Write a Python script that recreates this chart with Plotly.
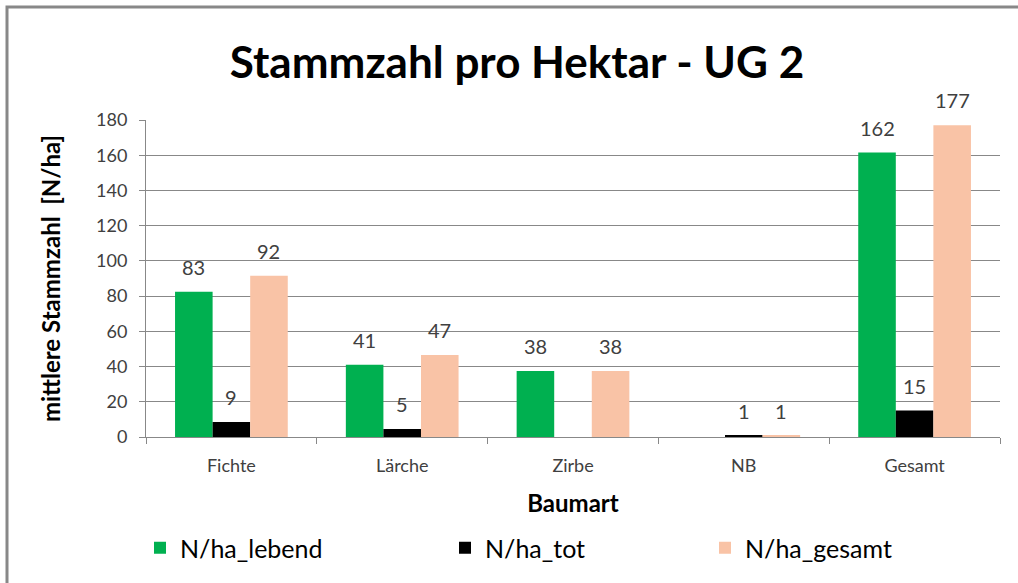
import plotly.graph_objects as go

categories = ["Fichte", "Lärche", "Zirbe", "NB", "Gesamt"]
lebend = [82.5, 41, 37.5, None, 161.5]
tot = [8.5, 4.6, None, 0.6, 15]
gesamt = [91.5, 46.5, 37.5, 0.8, 177]
lebend_labels = ["83", "41", "38", "", "162"]
tot_labels = ["9", "5", "", "1", "15"]
gesamt_labels = ["92", "47", "38", "1", "177"]

series_names = ["N/ha_lebend", "N/ha_tot", "N/ha_gesamt"]
colors = ["#00B050", "#000000", "#F9C3A6"]

W, H = 1018, 583
L, R, T, B = 146, 18, 120, 146
pw, ph = W - L - R, H - T - B
BARGAP = 0.34

def px_x(x):
    return (x - L) / pw

def px_y(y):
    return (H - B - y) / ph

FONT = "Lato"
fig = go.Figure()
data = [(lebend, lebend_labels), (tot, tot_labels), (gesamt, gesamt_labels)]
legends = ["legend", "legend2", "legend3"]
for vals, name, col, lg in zip([lebend, tot, gesamt], series_names, colors, legends):
    fig.add_trace(go.Bar(
        x=categories, y=vals, name=name, marker_color=col,
        marker_line_width=0, legend=lg, hoverinfo="x+y+name",
    ))

# data labels above bars (grouped offsets)
bar_px = pw / len(categories) * (1 - BARGAP) / 3
for i, (vals, labs) in enumerate(data):
    for cat, v, t in zip(categories, vals, labs):
        if v is None or t == "":
            continue
        fig.add_annotation(x=cat, y=v, text=t, showarrow=False,
                           xshift=(i - 1) * bar_px, yshift=11, yanchor="bottom",
                           font=dict(size=20, color="#404040", family=FONT))

leg_common = dict(orientation="h", font=dict(size=25, color="#000000", family=FONT),
                  bgcolor="rgba(0,0,0,0)", yanchor="middle", xanchor="left")
leg_x = [140, 445, 705]
fig.update_layout(
    width=W, height=H,
    margin=dict(l=L, r=R, t=T, b=B),
    paper_bgcolor="white", plot_bgcolor="white",
    barmode="group", bargap=BARGAP, bargroupgap=0,
    title=dict(text="<b>Stammzahl pro Hektar - UG 2</b>", x=517 / W, xref="container",
               xanchor="center", y=1 - 63 / H, yanchor="middle",
               font=dict(size=44, color="#000000", family=FONT)),
    legend=dict(x=px_x(leg_x[0]), y=px_y(548), **leg_common),
    legend2=dict(x=px_x(leg_x[1]), y=px_y(548), **leg_common),
    legend3=dict(x=px_x(leg_x[2]), y=px_y(548), **leg_common),
    xaxis=dict(
        title=dict(text="<b>Baumart</b>", font=dict(size=24, color="#000000", family=FONT), standoff=20),
        tickfont=dict(size=18, color="#404040", family=FONT),
        showline=True, linecolor="#888888", linewidth=1,
        ticks="outside", ticklen=6, tickcolor="#888888",
        tickson="boundaries", showgrid=False, ticklabelstandoff=12,
    ),
    yaxis=dict(
        title=dict(text="<b>mittlere Stammzahl  [N/ha]</b>", font=dict(size=24, color="#000000", family=FONT), standoff=28),
        tickfont=dict(size=18, color="#404040", family=FONT),
        range=[0, 180], dtick=20, tick0=0,
        showline=True, linecolor="#888888", linewidth=1,
        ticks="outside", ticklen=6, tickcolor="#888888",
        showgrid=True, gridcolor="#888888", gridwidth=1,
        zeroline=False, ticklabelstandoff=8,
    ),
    showlegend=True,
)

fig.add_shape(type="rect", xref="paper", yref="paper",
              x0=px_x(7), x1=px_x(1040), y0=px_y(620), y1=px_y(7),
              line=dict(color="#888888", width=3), fillcolor="rgba(0,0,0,0)", layer="below")

fig.write_html("out.html", config={"displayModeBar": False},
               post_script="document.body.style.margin='0';")
